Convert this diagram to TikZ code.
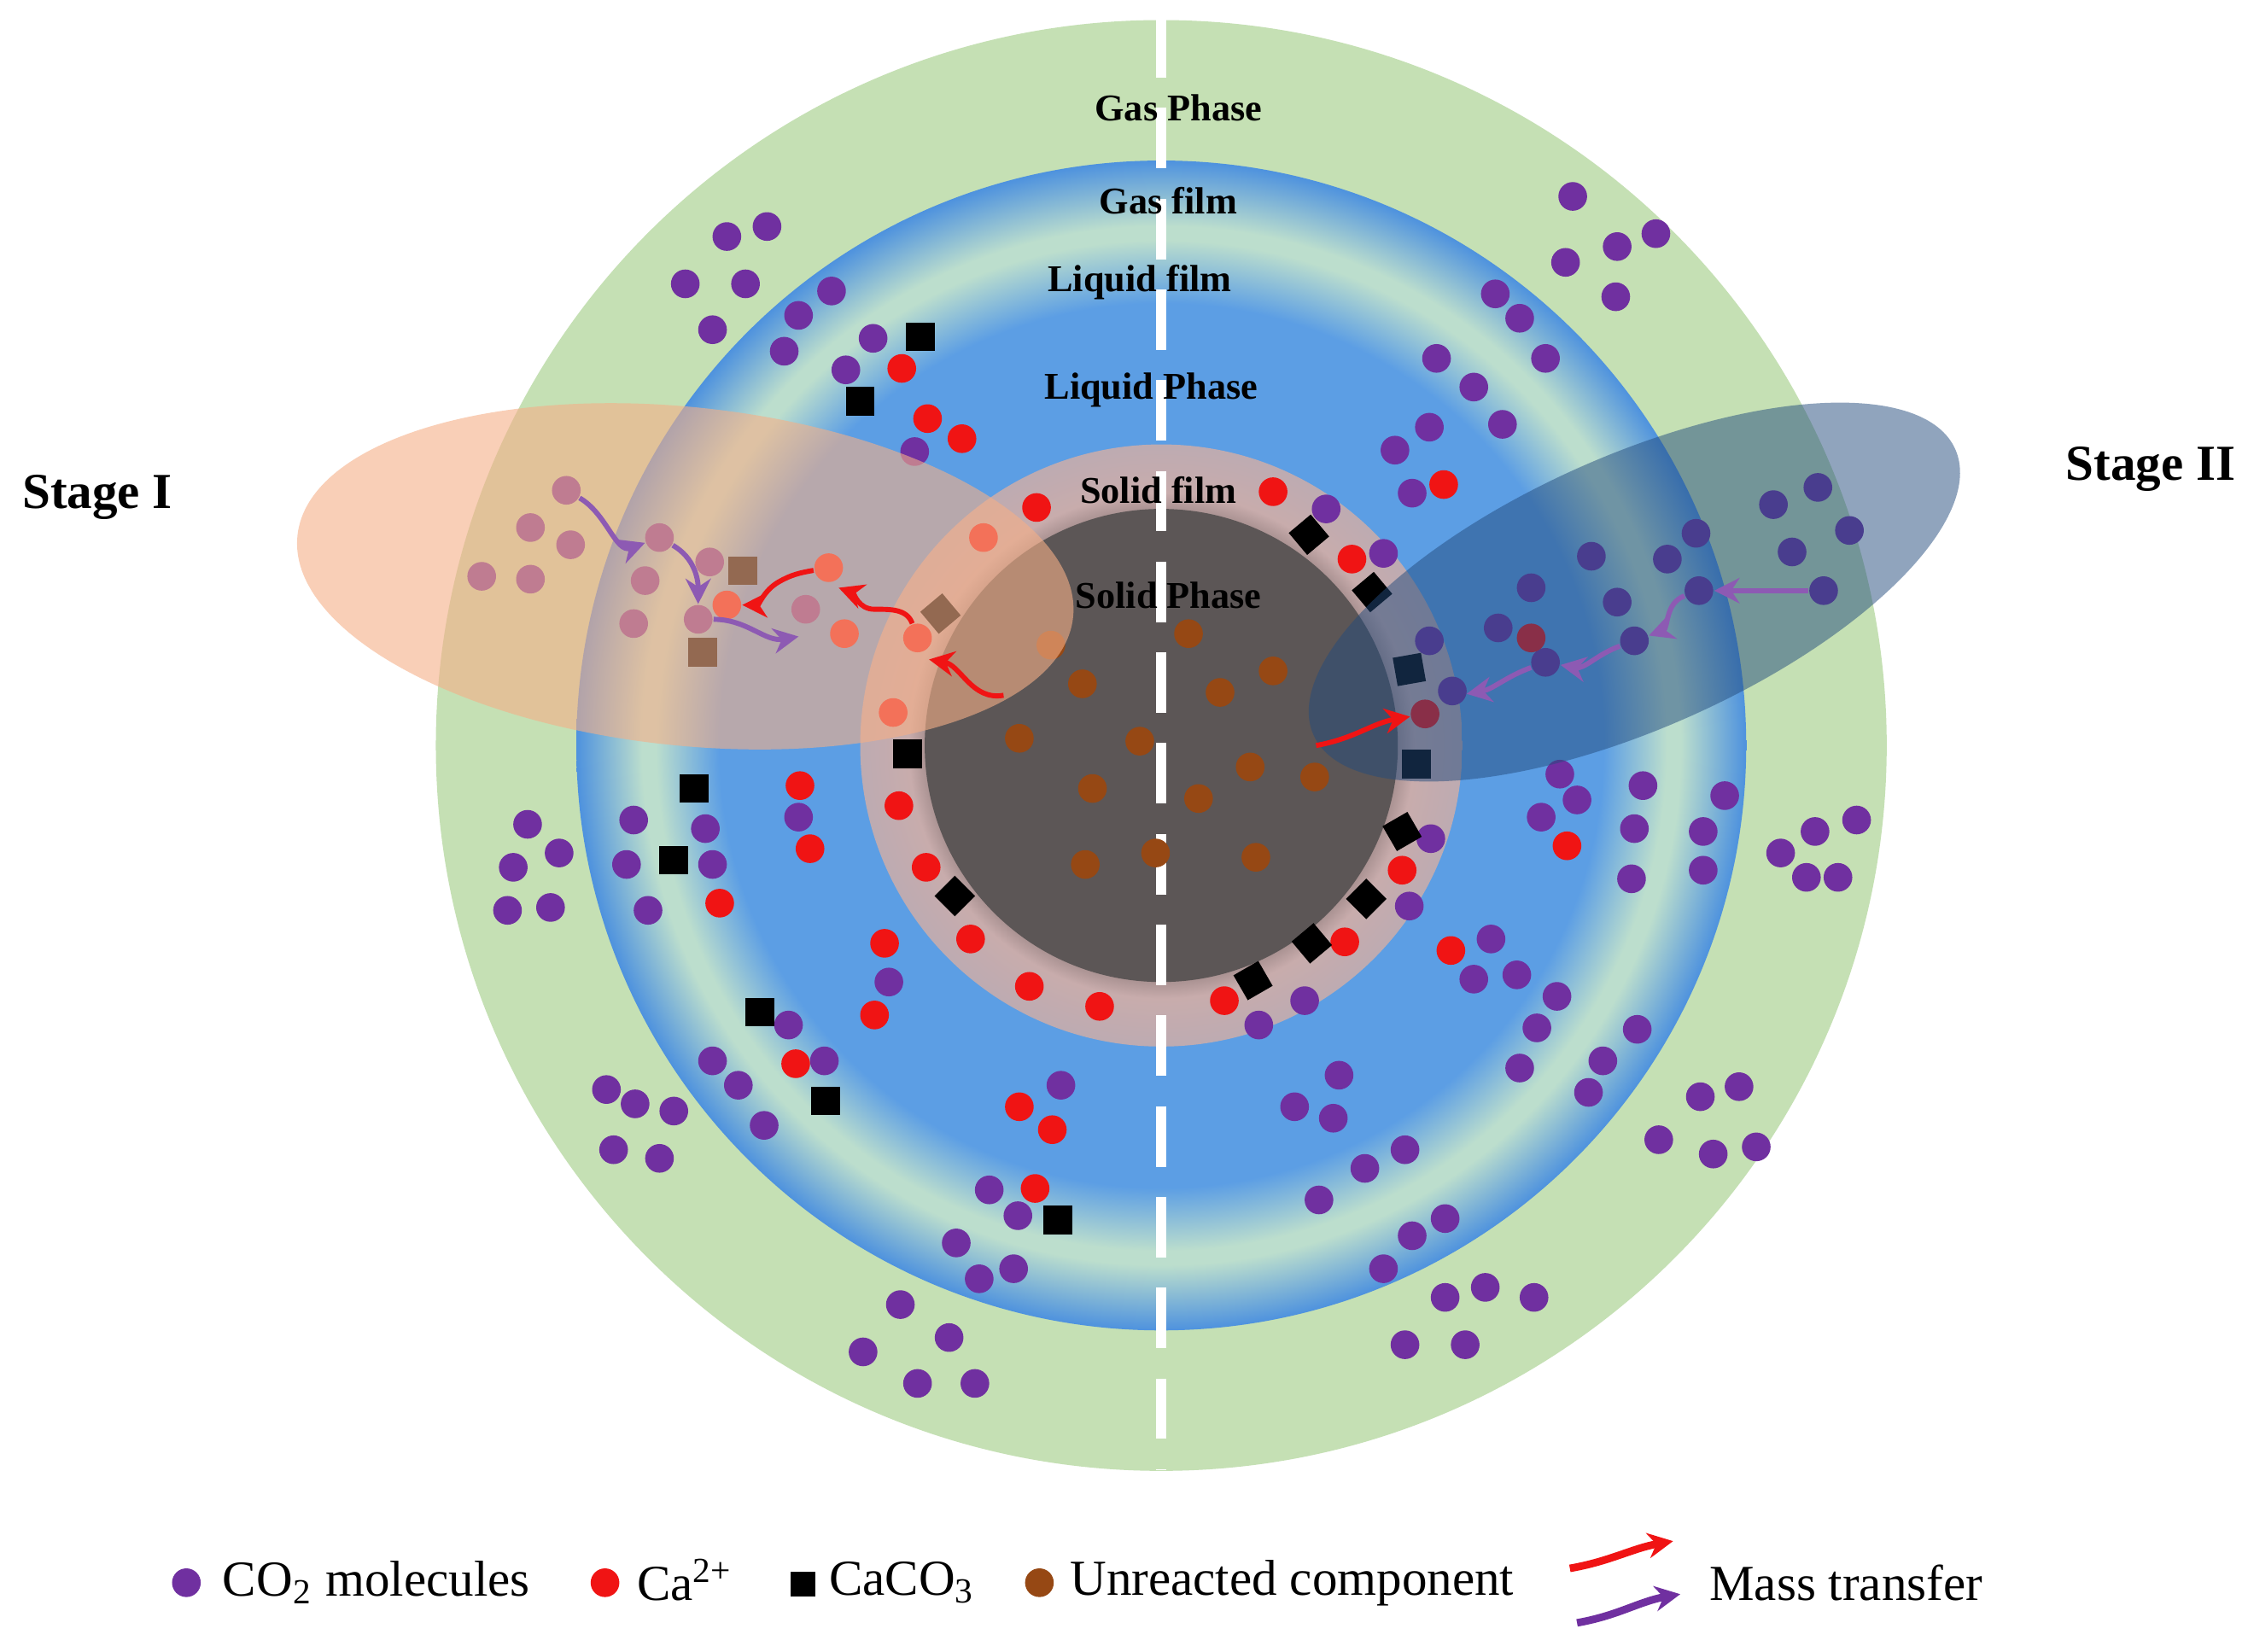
\documentclass[tikz,border=0pt]{standalone}
\usepackage{fontspec}
\setmainfont{Liberation Serif}
\usetikzlibrary{arrows.meta}
\definecolor{gph}{RGB}{197,224,180}
\definecolor{bl}{RGB}{92,158,228}
\definecolor{bl2}{RGB}{78,146,222}
\definecolor{pale}{RGB}{188,222,205}
\definecolor{sfilm}{RGB}{200,172,172}
\definecolor{sph}{RGB}{92,86,86}
\definecolor{pur}{RGB}{112,48,160}
\definecolor{rd}{RGB}{240,20,20}
\definecolor{brn}{RGB}{150,72,20}
\definecolor{org}{RGB}{245,175,135}
\definecolor{dbl}{RGB}{35,75,125}
\pgfdeclareradialshading{films}{\pgfpoint{0bp}{0bp}}{color(0bp)=(bl); color(18.9bp)=(bl); color(21.6bp)=(pale); color(22.2bp)=(pale); color(25bp)=(bl2); color(50bp)=(bl2)}
\pgfdeclareradialshading{sfilmsh}{\pgfpoint{0bp}{0bp}}{color(0bp)=(sfilm); color(19.6bp)=(sfilm!85!black); color(21bp)=(sfilm); color(25bp)=(sfilm!90!bl); color(50bp)=(sfilm!90!bl)}
\begin{document}
\begin{tikzpicture}[x=0.01cm,y=-0.01cm,
 P/.style={circle,fill=pur,minimum size=0.2cm,inner sep=0pt},
 R/.style={circle,fill=rd,minimum size=0.2cm,inner sep=0pt},
 B/.style={circle,fill=brn,minimum size=0.2cm,inner sep=0pt},
 S/.style={fill=black,minimum size=0.2cm,inner sep=0pt},
 lab/.style={font=\bfseries\fontsize{7.5}{8}\selectfont},
 leg/.style={font=\fontsize{10}{12}\selectfont,anchor=west},
 mtr/.style={-{Stealth[length=5pt,width=5pt]},line width=1pt,rd},
 mtp/.style={-{Stealth[length=5pt,width=5pt]},line width=1pt,pur!80!white}]
\useasboundingbox (0,0) rectangle (1568,1152);
\fill[white] (0,0) rectangle (1568,1152);
\fill[gph] (810,520) circle (506);
\shade[shading=films] (810,520) circle (408);
\shade[shading=sfilmsh] (810,520) circle (210);
\fill[sph] (810,520) circle (165);
\draw[white,line width=2pt,dash pattern=on 12pt off 6pt] (810,12) coordinate(t) -- (810,1025) coordinate(b);
% labels
\node[lab] (l1) at (822,75) {Gas Phase};
\node[lab] (l2) at (815,140) {Gas film};
\node[lab] (l3) at (795,197) {Liquid film};
\node[lab] (l4) at (803,272) {Liquid Phase};
\node[lab] (l5) at (808,342) {Solid film};
\node[lab] (l6) at (815,415) {Solid Phase};
% purple
\foreach \x/\y [count=\i] in {507/165,535/158,478/198,520/198,497/230,557/220,580/203,547/245,590/258,609/236,638/315,
1097/137,1092/183,1128/172,1155/163,1127/207,1043/205,1060/222,1078/250,1002/250,1028/270,1048/296,997/298,973/314,985/344,925/355,965/386,
1237/352,1268/340,1290/370,1250/385,1272/412,1183/372,1163/390,1110/388,1128/420,1185/412,1140/447,1078/462,1068/410,1045/438,997/447,1013/482,1088/540,1100/558,1075/570,1146/548,1140/578,1138/613,1203/555,1188/580,1188/607,998/585,983/632,
395/342,370/368,398/380,336/402,370/404,460/375,495/392,450/405,442/435,487/432,562/425,
368/575,358/605,390/595,354/635,384/633,442/572,437/603,452/635,492/578,497/603,557/570,620/685,550/715,497/740,515/757,533/785,575/740,423/760,443/770,470/775,428/802,460/808,740/757,690/830,710/848,667/867,683/892,707/885,628/910,662/933,602/943,640/965,680/965,
1040/655,1028/683,1058/680,1086/695,1072/717,1060/745,1118/740,1142/718,1108/762,878/715,910/698,934/750,903/772,930/780,1242/595,1266/580,1295/572,1260/612,1282/612,980/802,952/815,920/837,1008/850,985/862,965/885,1036/898,1008/905,1070/905,980/938,1022/938,1186/765,1213/758,1157/795,1195/805,1225/800}
 \node[P] (p\i) at (\x,\y) {};
% red
\foreach \x/\y [count=\i] in {629/257,647/292,671/306,723/354,686/375,578/396,589/442,507/422,640/445,623/497,627/562,558/548,565/592,502/630,646/605,677/655,617/658,610/708,555/742,718/688,767/702,711/772,734/788,722/829,888/343,943/390,1007/338,1068/445,994/498,978/607,938/657,1012/663,854/698,1093/590}
 \node[R] (r\i) at (\x,\y) {};
% brown
\foreach \x/\y [count=\i] in {733/450,755/477,829/442,851/483,888/468,711/515,795/517,762/550,836/557,872/535,917/542,757/603,806/595,876/598}
 \node[B] (u\i) at (\x,\y) {};
% squares
\foreach \x/\y/\a [count=\i] in {642/235/0,600/280/0,518/398/0,490/455/0,656/428/40,633/526/0,484/550/0,470/600/0,530/706/0,576/768/0,738/851/0,913/373/40,957/413/40,983/467/10,988/533/0,978/580/30,953/627/45,915/658/40,874/684/30,666/625/45}
 \node[S,rotate=\a] (s\i) at (\x,\y) {};
% ellipses
\fill[org,opacity=0.6,rotate around={-6:(478,402)}] (478,402) ellipse (272 and 118);
\fill[dbl,opacity=0.5,rotate around={24:(1140,413)}] (1140,413) ellipse (245 and 95);
% arrows stage I
\coordinate (a1) at (700,485); \coordinate (a2) at (648,460);
\draw[mtr] (a1) to[out=190,in=-10] (a2);
\draw[mtr] (r9) to[out=110,in=0] ++(-30,-20) to[out=180,in=-20] ++(-25,-15);
\draw[mtr] (r6) to[out=190,in=30] ++(-35,10) to[out=210,in=0] (r8);
\draw[mtp] (p55) to[out=-30,in=200] (p60);
\draw[mtp] (p60) to[out=-30,in=90] (p64);
\draw[mtp] (p64) to[out=0,in=190] ++(70,12);
% stage II
\coordinate (c1) at (918,520);
\draw[mtr] (c1) to[out=10,in=190] (r29);
\draw[mtp] (p32) to[out=180,in=0] (p37);
\draw[mtp] (p37) to[out=200,in=20] (p38);
\draw[mtp] (p38) to[out=200,in=-10] (p39);
\draw[mtp] (p39) to[out=200,in=10] ++(-55,22);
% stage labels
\node[font=\bfseries\fontsize{10}{12}\selectfont] (st1) at (68,347) {Stage I};
\node[font=\bfseries\fontsize{10}{12}\selectfont] (st2) at (1500,327) {Stage II};
% legend
\node[P] (g1) at (130,1104) {}; \node[leg] (t1) at (143,1104) {CO\textsubscript{2} molecules};
\node[R] (g2) at (422,1104) {}; \node[leg] (t2) at (432,1102) {Ca\textsuperscript{2+}};
\node[S,minimum size=0.17cm] (g3) at (560,1105) {}; \node[leg] (t3) at (566,1104) {CaCO\textsubscript{3}};
\node[B] (g4) at (725,1104) {}; \node[leg] (t4) at (734,1104) {Unreacted component};
\coordinate (m1) at (1095,1094); \coordinate (m2) at (1167,1075);
\draw[mtr,line width=1.5pt] (m1) to[out=10,in=190] (m2);
\coordinate (m3) at (1100,1132); \coordinate (m4) at (1172,1112);
\draw[mtp,line width=1.5pt,pur] (m3) to[out=10,in=190] (m4);
\node[leg] (t5) at (1180,1104) {Mass transfer};
\end{tikzpicture}
\end{document}
